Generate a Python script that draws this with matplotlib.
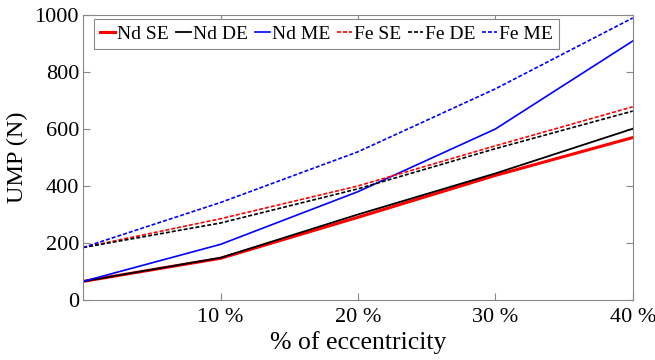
import matplotlib.pyplot as plt

ecc = [0, 10, 20, 30, 40]
xtick_vals = [10, 20, 30, 40]
xtick_labels = ["10 %", "20 %", "30 %", "40 %"]

nd_se = [65, 146, 290, 437, 570]
nd_de = [65, 148, 300, 444, 601]
nd_me = [65, 195, 380, 600, 909]
fe_se = [184, 285, 400, 541, 678]
fe_de = [184, 270, 390, 531, 663]
fe_me = [184, 342, 520, 741, 990]

plt.rcParams["font.family"] = ["Liberation Serif", "DejaVu Serif"]

fig = plt.figure(figsize=(6.55, 3.6), dpi=100)
ax = fig.add_axes([0.127, 0.167, 0.839, 0.791])

dash = (0, (2.4, 1.2))
ax.plot(ecc, nd_se, color="red", lw=2.2, label="Nd SE")
ax.plot(ecc, nd_de, color="black", lw=1.3, label="Nd DE")
ax.plot(ecc, nd_me, color="blue", lw=1.2, label="Nd ME")
ax.plot(ecc, fe_se, color="red", lw=1.2, ls=dash, label="Fe SE")
ax.plot(ecc, fe_de, color="black", lw=1.2, ls=dash, label="Fe DE")
ax.plot(ecc, fe_me, color="blue", lw=1.2, ls=dash, label="Fe ME")

ax.set_xlim(0, 40)
ax.set_ylim(0, 1000)
ax.set_xticks(xtick_vals)
ax.set_xticklabels(xtick_labels)
ax.set_yticks(range(0, 1001, 200))
ax.tick_params(direction="in", top=True, right=True, length=5, color="#888888",
               labelsize=16, pad=3)
ax.tick_params(axis="x", pad=6)
for s in ax.spines.values():
    s.set_color("#888888")

ax.set_xlabel("% of eccentricity", fontsize=18.5, labelpad=3)
ax.set_ylabel("UMP (N)", fontsize=17.5, labelpad=5)

leg = ax.legend(loc="upper left", bbox_to_anchor=(0.02, 0.985), ncol=6,
                fontsize=14, handlelength=0.77, handletextpad=0.1,
                columnspacing=0.36, borderpad=0.3, borderaxespad=0,
                fancybox=False, framealpha=1)
leg.get_frame().set_edgecolor("#888888")
leg.get_frame().set_linewidth(0.8)

fig.savefig("out.png", dpi=100)
